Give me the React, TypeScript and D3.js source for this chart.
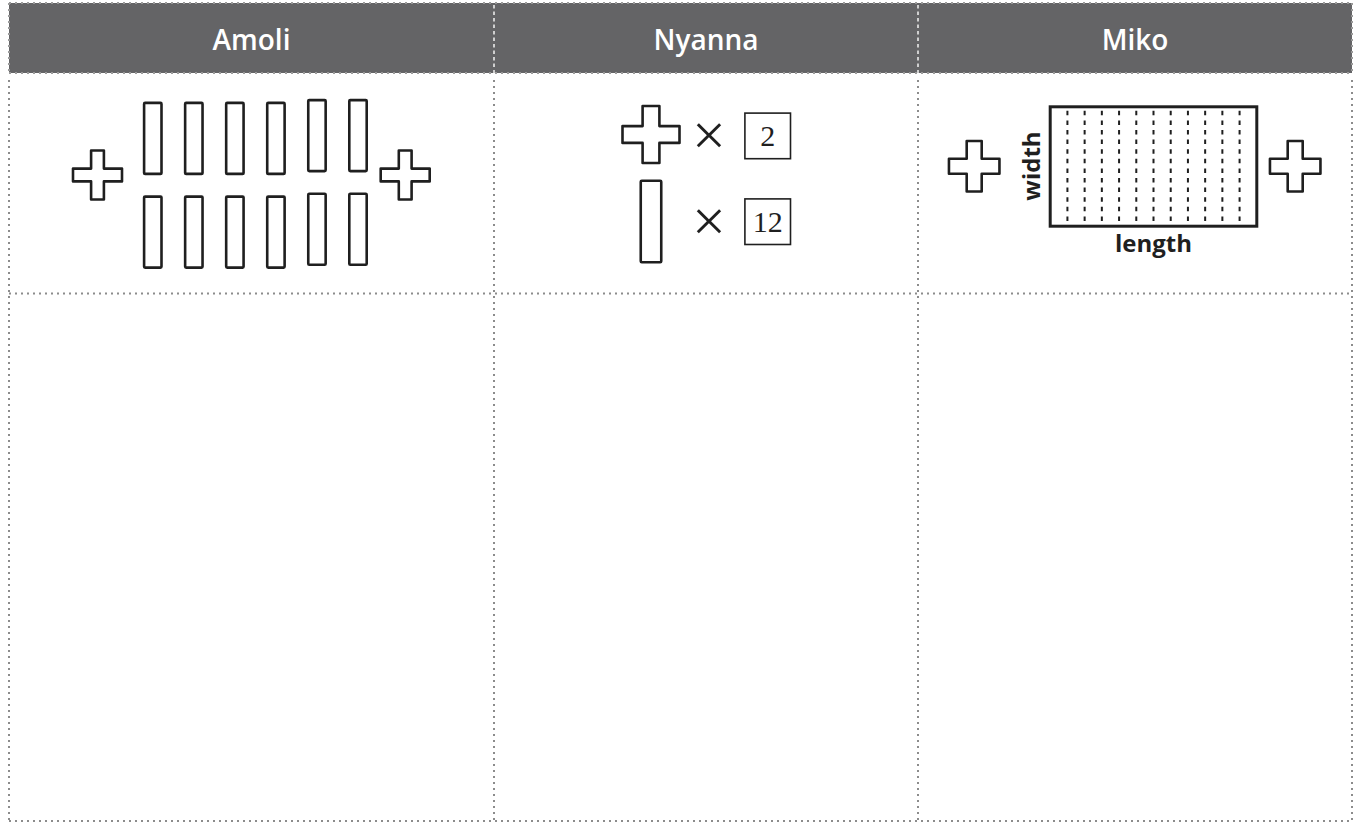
import React from "react";
import * as d3 from "d3";

// ---------- data ----------
const people = ["Amoli", "Nyanna", "Miko"];
const crossCount = 2; // pieces shaped like a cross
const barCount = 12; // long rectangular pieces
const nyannaCounts = [
  { shape: "cross", count: 2 },
  { shape: "bar", count: 12 },
];
const mikoStrips = 12;
const mikoLabels = { side: "width", bottom: "length" };

// ---------- layout ----------
const W = 1353;
const H = 822;
const colEdges = [9, 494, 918, 1352];
const topY = 3;
const headerBottom = 73;
const rowDivider = 293.5;
const bottomY = 821;
const ink = "#1f1f1f";
const headerFill = "#646466";
const borderColor = "#8c8c8c";
const sans = "'Open Sans', 'Noto Sans', Lato, sans-serif";
const serif = "'Liberation Serif', 'DejaVu Serif', serif";

function crossPath(cx: number, cy: number, size: number, arm: number) {
  const h = size / 2;
  const a = arm / 2;
  const p = d3.path();
  p.moveTo(cx - a, cy - h);
  p.lineTo(cx + a, cy - h);
  p.lineTo(cx + a, cy - a);
  p.lineTo(cx + h, cy - a);
  p.lineTo(cx + h, cy + a);
  p.lineTo(cx + a, cy + a);
  p.lineTo(cx + a, cy + h);
  p.lineTo(cx - a, cy + h);
  p.lineTo(cx - a, cy + a);
  p.lineTo(cx - h, cy + a);
  p.lineTo(cx - h, cy - a);
  p.lineTo(cx - a, cy - a);
  p.closePath();
  return p.toString();
}

function Cross({ cx, cy, size, arm, sw }: any) {
  return (
    <path
      d={crossPath(cx, cy, size, arm)}
      fill="#fff"
      stroke={ink}
      strokeWidth={sw}
      strokeLinejoin="round"
    />
  );
}

function Amoli() {
  const perRow = barCount / 2;
  const xCol = d3.scaleLinear().domain([0, perRow - 1]).range([152.8, 358.0]);
  const yRow = d3.scaleLinear().domain([0, 1]).range([138.4, 232.1]);
  const lift = (i: number) => (i >= 4 ? 2.8 : 0);
  const bw = 17.4;
  const bh = 71;
  const xCross = d3.scaleLinear().domain([0, crossCount - 1]).range([97.5, 405.2]);
  const bars = d3.range(barCount).map((k) => ({ col: k % perRow, row: Math.floor(k / perRow) }));
  return (
    <g>
      {d3.range(crossCount).map((i) => (
        <Cross key={"c" + i} cx={xCross(i)} cy={175} size={49} arm={12.8} sw={2.6} />
      ))}
      {bars.map((b, k) => (
        <rect
          key={k}
          x={xCol(b.col) - bw / 2}
          y={yRow(b.row) - bh / 2 - lift(b.col)}
          width={bw}
          height={bh}
          rx={1}
          fill="#fff"
          stroke={ink}
          strokeWidth={2.6}
        />
      ))}
    </g>
  );
}

function Nyanna() {
  const yRow = d3.scaleLinear().domain([0, 1]).range([134.5, 221.5]);
  const boxY = d3.scaleLinear().domain([0, 1]).range([135.9, 221.7]);
  return (
    <g>
      {nyannaCounts.map((d, i) => (
        <g key={d.shape}>
          {d.shape === "cross" ? (
            <Cross cx={651} cy={yRow(i)} size={57} arm={16.8} sw={2.6} />
          ) : (
            <rect
              x={651 - 10.25}
              y={yRow(i) - 40.75}
              width={20.5}
              height={81.5}
              rx={1}
              fill="#fff"
              stroke={ink}
              strokeWidth={2.6}
            />
          )}
          <text
            x={709}
            y={boxY(i) + 19.5}
            textAnchor="middle"
            fontFamily={serif}
            fontSize={60}
            fill={ink}
          >
            ×
          </text>
          <rect
            x={767.7 - 22.8}
            y={boxY(i) - 22.8}
            width={45.6}
            height={45.6}
            fill="#fff"
            stroke={ink}
            strokeWidth={1.6}
          />
          <text
            x={767.7}
            y={boxY(i) + 10.5}
            textAnchor="middle"
            fontFamily={serif}
            fontSize={30}
            fill={ink}
          >
            {d.count}
          </text>
        </g>
      ))}
    </g>
  );
}

function Miko() {
  const rx0 = 1050.2;
  const rx1 = 1256.8;
  const ry0 = 106.8;
  const ry1 = 226.2;
  const x = d3.scaleLinear().domain([0, mikoStrips]).range([rx0, rx1]);
  const xCross = d3.scaleLinear().domain([0, crossCount - 1]).range([974.2, 1295.2]);
  return (
    <g>
      {d3.range(crossCount).map((i) => (
        <Cross key={"c" + i} cx={xCross(i)} cy={166.3} size={50.5} arm={15} sw={2.6} />
      ))}
      {d3.range(1, mikoStrips).map((i) => (
        <line
          key={i}
          x1={x(i)}
          x2={x(i)}
          y1={ry0 + 4}
          y2={ry1 - 1}
          stroke={ink}
          strokeWidth={2}
          strokeDasharray="4.5 5.1"
        />
      ))}
      <rect
        x={rx0}
        y={ry0}
        width={rx1 - rx0}
        height={ry1 - ry0}
        fill="none"
        stroke={ink}
        strokeWidth={3}
      />
      <text
        transform={`translate(1039.5, 166) rotate(-90)`}
        textAnchor="middle"
        fontFamily={sans}
        fontWeight={700}
        fontSize={24}
        fill={ink}
      >
        {mikoLabels.side}
      </text>
      <text
        x={(rx0 + rx1) / 2}
        y={251.5}
        textAnchor="middle"
        fontFamily={sans}
        fontWeight={700}
        fontSize={24}
        fill={ink}
      >
        {mikoLabels.bottom}
      </text>
    </g>
  );
}

export default function App() {
  const dot = { stroke: borderColor, strokeWidth: 2, strokeDasharray: "2 4" };
  return (
    <svg
      width={W}
      height={H}
      viewBox={`0 0 ${W} ${H}`}
      style={{ position: "absolute", left: 0, top: 0, background: "#fff" }}
    >
      <rect x={colEdges[0]} y={topY} width={colEdges[3] - colEdges[0]} height={headerBottom - topY} fill={headerFill} />
      {people.map((p, i) => (
        <text
          key={p}
          x={(colEdges[i] + colEdges[i + 1]) / 2}
          y={50}
          textAnchor="middle"
          fontFamily={sans}
          fontWeight={600}
          fontSize={28}
          fill="#fff"
        >
          {p}
        </text>
      ))}
      {/* header borders */}
      <line x1={colEdges[0]} x2={colEdges[3]} y1={topY} y2={topY} {...dot} stroke="#9a9a9a" />
      <line x1={colEdges[0]} x2={colEdges[3]} y1={headerBottom} y2={headerBottom} {...dot} stroke="#9a9a9a" />
      <line x1={colEdges[0]} x2={colEdges[0]} y1={topY} y2={headerBottom} {...dot} stroke="#9a9a9a" />
      <line x1={colEdges[3]} x2={colEdges[3]} y1={topY} y2={headerBottom} {...dot} stroke="#9a9a9a" />
      {[colEdges[1], colEdges[2]].map((x) => (
        <line key={x} x1={x} x2={x} y1={topY + 2} y2={headerBottom} stroke="#f2f2f2" strokeWidth={1.5} strokeDasharray="3.5 3" />
      ))}
      {/* body borders */}
      {colEdges.map((x) => (
        <line key={"v" + x} x1={x} x2={x} y1={headerBottom + 7} y2={bottomY} {...dot} />
      ))}
      <line x1={colEdges[0]} x2={colEdges[3]} y1={rowDivider} y2={rowDivider} {...dot} />
      <line x1={colEdges[0]} x2={colEdges[3]} y1={bottomY} y2={bottomY} {...dot} />
      <Amoli />
      <Nyanna />
      <Miko />
    </svg>
  );
}
